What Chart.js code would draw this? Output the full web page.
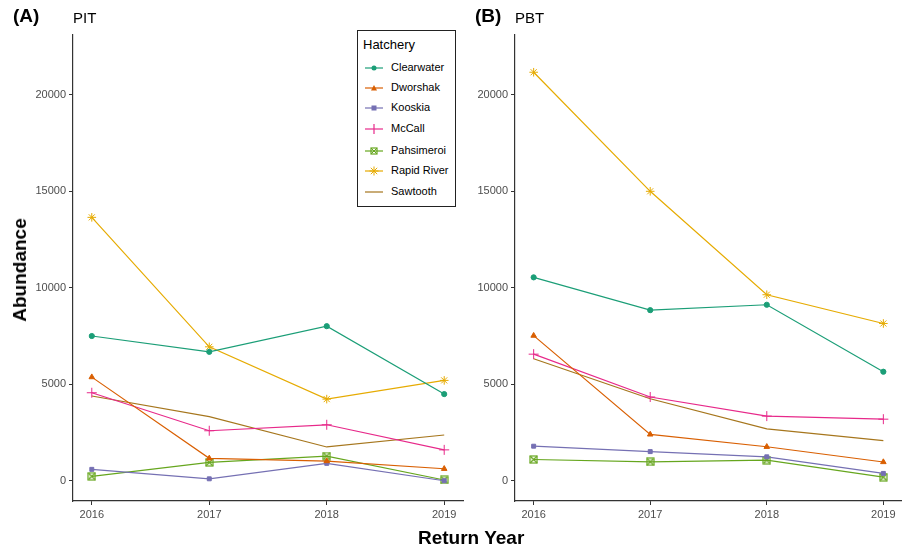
<!DOCTYPE html>
<html>
<head>
<meta charset="utf-8">
<script src="https://cdn.jsdelivr.net/npm/chart.js@4"></script>
<style>
  body { margin: 0; background: #fff; font-family: "Liberation Sans", Arial, sans-serif; }
  #wrap { position: relative; width: 902px; height: 550px; overflow: hidden; }
  .box { position: absolute; top: 0; height: 550px; }
  .lbl { position: absolute; white-space: nowrap; color: #000; }
  #legend { position: absolute; left: 357px; top: 30px; width: 99px; height: 177px;
            border: 1px solid #222; background: #fff; box-sizing: border-box; }
  #legend .ttl { position: absolute; left: 5px; top: 6px; font-size: 13px; }
  #legend .row { position: absolute; left: 0; height: 16px; font-size: 11px; }
  #legend .row svg { position: absolute; left: 6px; top: 0; }
  #legend .row span { position: absolute; left: 33px; top: 1px; }
</style>
</head>
<body>
<div id="wrap">
  <div class="box" style="left:0;width:470px"><canvas id="pit"></canvas></div>
  <div class="box" style="left:470px;width:438px"><canvas id="pbt"></canvas></div>
  <div class="lbl" style="left:13px;top:5px;font-size:19px;font-weight:bold">(A)</div>
  <div class="lbl" style="left:73px;top:9px;font-size:15px">PIT</div>
  <div class="lbl" style="left:475px;top:5px;font-size:19px;font-weight:bold">(B)</div>
  <div class="lbl" style="left:515px;top:9px;font-size:15px">PBT</div>
  <div class="lbl" style="left:418px;top:527px;font-size:19px;font-weight:bold">Return Year</div>
  <div class="lbl" style="left:20px;top:270px;font-size:19px;font-weight:bold;transform:translate(-50%,-50%) rotate(-90deg)">Abundance</div>
  <div id="legend"><div class="ttl">Hatchery</div></div>
</div>
<script>
const years = [2016, 2017, 2018, 2019];
const hatcheries = ["Clearwater", "Dworshak", "Kooskia", "McCall", "Pahsimeroi", "Rapid River", "Sawtooth"];
const colors = ["#1B9E77", "#D95F02", "#7570B3", "#E7298A", "#66A61E", "#E6AB02", "#A6761D"];
const yTicks = [0, 5000, 10000, 15000, 20000];

// PIT estimates
const pitClearwater = [7500, 6680, 8010, 4490];
const pitDworshak = [5370, 1160, 1020, 620];
const pitKooskia = [590, 100, 900, 0];
const pitMcCall = [4560, 2590, 2900, 1600];
const pitPahsimeroi = [230, 950, 1280, 40];
const pitRapidRiver = [13650, 6940, 4230, 5200];
const pitSawtooth = [4390, 3320, 1750, 2370];

// PBT estimates
const pbtClearwater = [10540, 8840, 9120, 5650];
const pbtDworshak = [7520, 2400, 1760, 970];
const pbtKooskia = [1790, 1510, 1240, 380];
const pbtMcCall = [6560, 4340, 3350, 3190];
const pbtPahsimeroi = [1100, 980, 1070, 190];
const pbtRapidRiver = [21170, 15000, 9640, 8150];
const pbtSawtooth = [6320, 4250, 2690, 2080];

const pitSeries = [pitClearwater, pitDworshak, pitKooskia, pitMcCall, pitPahsimeroi, pitRapidRiver, pitSawtooth];
const pbtSeries = [pbtClearwater, pbtDworshak, pbtKooskia, pbtMcCall, pbtPahsimeroi, pbtRapidRiver, pbtSawtooth];

// square with an x inside, like ggplot shape 7
function boxCross(color) {
  const c = document.createElement("canvas");
  c.width = 9; c.height = 9;
  const g = c.getContext("2d");
  g.strokeStyle = color; g.lineWidth = 1.2;
  g.strokeRect(1, 1, 7, 7);
  g.beginPath();
  g.moveTo(1, 1); g.lineTo(8, 8); g.moveTo(8, 1); g.lineTo(1, 8);
  g.stroke();
  return c;
}

const styles = [
  { pointStyle: "circle", pointRadius: 2.6 },
  { pointStyle: "triangle", pointRadius: 3.2 },
  { pointStyle: "rect", pointRadius: 2.8 },
  { pointStyle: "cross", pointRadius: 5 },
  { pointStyle: boxCross(colors[4]), pointRadius: 4 },
  { pointStyle: "star", pointRadius: 4.3 },
  { pointStyle: "circle", pointRadius: 0 },
];

function makeDatasets(series) {
  return series.map(function (vals, i) {
    return {
      label: hatcheries[i],
      data: vals.map(function (v, j) { return { x: years[j], y: v }; }),
      borderColor: colors[i],
      backgroundColor: colors[i],
      pointBackgroundColor: colors[i],
      pointBorderColor: colors[i],
      pointBorderWidth: 1,
      borderWidth: 1.2,
      pointStyle: styles[i].pointStyle,
      pointRadius: styles[i].pointRadius,
      tension: 0,
    };
  });
}

function makeChart(id, series, yWidth, padRight) {
  new Chart(document.getElementById(id), {
    type: "line",
    data: { datasets: makeDatasets(series) },
    options: {
      responsive: true,
      maintainAspectRatio: false,
      animation: false,
      layout: { padding: { top: 35, right: padRight, left: 0, bottom: 0 } },
      plugins: { legend: { display: false }, tooltip: { enabled: false } },
      scales: {
        x: {
          type: "linear",
          min: 2015.84,
          max: 2019.16,
          afterBuildTicks: function (s) { s.ticks = years.map(function (v) { return { value: v }; }); },
          afterFit: function (s) { s.height = 49; },
          grid: { drawOnChartArea: false, drawTicks: true, tickLength: 4, color: "#333" },
          border: { display: true, color: "#333", width: 1.2 },
          ticks: { color: "#4D4D4D", font: { size: 11, family: "Liberation Sans" }, padding: 3,
                   callback: function (v) { return String(v); } },
        },
        y: {
          min: -1050,
          max: 23100,
          afterBuildTicks: function (s) { s.ticks = yTicks.map(function (v) { return { value: v }; }); },
          afterFit: function (s) { s.width = yWidth; },
          grid: { drawOnChartArea: false, drawTicks: true, tickLength: 4, color: "#333" },
          border: { display: true, color: "#333", width: 1.2 },
          ticks: { color: "#4D4D4D", font: { size: 11, family: "Liberation Sans" }, padding: 3,
                   callback: function (v) { return String(v); } },
        },
      },
    },
  });
}

makeChart("pit", pitSeries, 73, 7);
makeChart("pbt", pbtSeries, 45, 0);

// legend
const legend = document.getElementById("legend");
const rowTops = [29, 49, 69, 90, 112, 132, 153];
hatcheries.forEach(function (name, i) {
  const c = colors[i];
  let mark = "";
  if (i === 0) mark = '<circle cx="10" cy="8" r="2.5" fill="' + c + '"/>';
  if (i === 1) mark = '<polygon points="10,5 13,10.5 7,10.5" fill="' + c + '"/>';
  if (i === 2) mark = '<rect x="7.5" y="5.5" width="5" height="5" fill="' + c + '"/>';
  if (i === 3) mark = '<line x1="10" y1="3" x2="10" y2="13" stroke="' + c + '" stroke-width="1.2"/>';
  if (i === 4) mark = '<rect x="7" y="5" width="6" height="6" fill="none" stroke="' + c + '" stroke-width="1.2"/><path d="M7 5L13 11M13 5L7 11" stroke="' + c + '" stroke-width="1"/>';
  if (i === 5) mark = '<path d="M10 3.5V12.5M5.5 8H14.5M6.8 4.8L13.2 11.2M13.2 4.8L6.8 11.2" stroke="' + c + '" stroke-width="1"/>';
  const row = document.createElement("div");
  row.className = "row";
  row.style.top = rowTops[i] + "px";
  row.style.width = "97px";
  row.innerHTML = '<svg width="22" height="16"><line x1="1" y1="8" x2="19" y2="8" stroke="' + c + '" stroke-width="1.2"/>' + mark + '</svg><span>' + name + '</span>';
  legend.appendChild(row);
});
</script>
</body>
</html>
